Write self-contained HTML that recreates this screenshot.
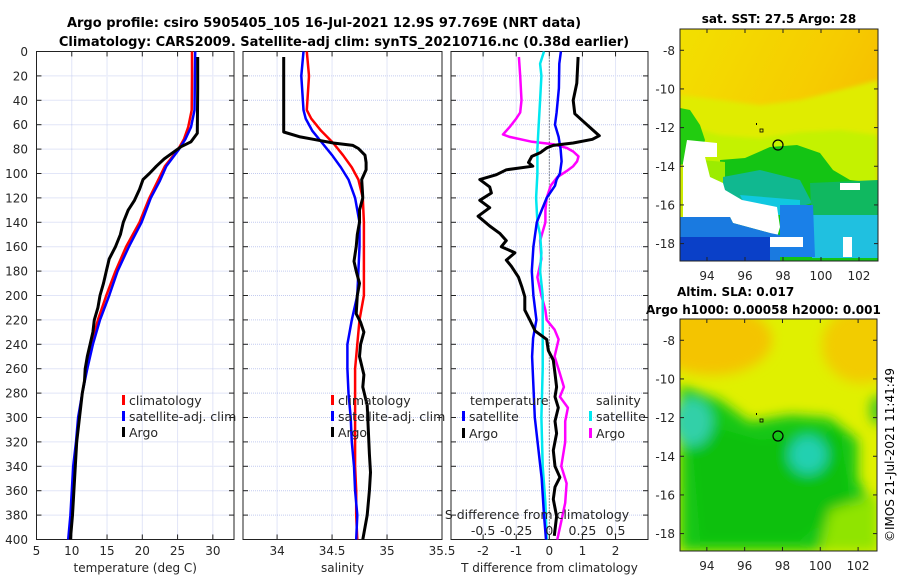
<!DOCTYPE html>
<html><head><meta charset="utf-8"><style>
html,body{margin:0;padding:0;background:#fff;}
svg{display:block;font-family:"DejaVu Sans","Liberation Sans",sans-serif;}
</style></head><body>
<svg id="chart" width="900" height="580" viewBox="0 0 900 580" xmlns="http://www.w3.org/2000/svg">
<defs>
<filter id="blur1"><feGaussianBlur stdDeviation="2"/></filter>
<filter id="blur2"><feGaussianBlur stdDeviation="6"/></filter>
<clipPath id="clipM1"><rect x="680" y="29" width="198" height="232"/></clipPath>
<clipPath id="clipM2"><rect x="680" y="319" width="197" height="232"/></clipPath>
<linearGradient id="g1" x1="0" y1="0" x2="1" y2="0.6"><stop offset="0" stop-color="#f2e000"/><stop offset="0.6" stop-color="#f6cc00"/><stop offset="1" stop-color="#f5b800"/></linearGradient>
</defs>
<text x="324" y="27" text-anchor="middle" font-size="13" font-weight="bold">Argo profile: csiro 5905405_105 16-Jul-2021 12.9S 97.769E (NRT data)</text>
<text x="344" y="46" text-anchor="middle" font-size="13" font-weight="bold">Climatology: CARS2009. Satellite-adj clim: synTS_20210716.nc (0.38d earlier)</text>

<!-- Map 1 -->
<g clip-path="url(#clipM1)">
<rect x="680" y="29" width="198" height="232" fill="url(#g1)"/>
<g filter="url(#blur1)">
<polygon points="680,95 720,100 760,105 800,100 840,90 878,80 878,200 680,200" fill="#e0ec00"/>
<polygon points="680,125 720,135 760,138 800,132 840,130 878,135 878,261 680,261" fill="#c4f200"/>
</g>
<polygon points="680,108 690,110 700,125 705,140 700,160 680,165" fill="#22cc10"/>
<polygon points="720,160 745,158 770,147 797,145 820,153 833,170 850,180 877,183 878,261 720,261" fill="#14c414"/>
<polygon points="700,160 725,162 725,185 700,185" fill="#9cec00"/>
<polygon points="723,177 760,170 800,180 812,203 790,210 723,200" fill="#10b890"/>
<polygon points="810,183 878,180 878,225 812,225" fill="#10b860"/>
<polygon points="740,195 800,200 800,215 750,215" fill="#10c8e0"/>
<polygon points="812,215 878,215 878,258 812,258" fill="#20c0e0"/>
<polygon points="687,140 717,143 717,157 705,157 710,177 723,183 725,190 742,200 757,203 777,207 780,227 777,237 770,233 733,223 730,217 683,217 683,163" fill="#ffffff"/>
<polygon points="680,217 730,217 733,223 770,233 780,235 780,261 680,261" fill="#1a7ae0"/>
<polygon points="780,205 813,205 815,257 780,257" fill="#1a80e8"/>
<polygon points="680,237 770,237 770,261 680,261" fill="#0a40c8"/>
<rect x="770" y="237" width="33" height="10" fill="#fff"/>
<rect x="843" y="237" width="9" height="20" fill="#fff"/>
<rect x="840" y="183" width="20" height="7" fill="#fff"/>
<circle cx="778" cy="145" r="5" fill="none" stroke="#000" stroke-width="1.2"/>
<rect x="756" y="123" width="1" height="2" fill="#000"/>
<rect x="760" y="129" width="3" height="3" fill="none" stroke="#000" stroke-width="0.8"/>
</g>
<rect x="680" y="29" width="198" height="232" fill="none" stroke="#222" stroke-width="1"/>
<text x="779" y="23" text-anchor="middle" font-size="12" font-weight="bold">sat. SST: 27.5 Argo: 28</text>

<!-- Map 2 -->
<g clip-path="url(#clipM2)">
<rect x="680" y="319" width="197" height="232" fill="#e0f000"/>
<g filter="url(#blur2)">
<ellipse cx="712" cy="340" rx="60" ry="35" fill="#f4c400"/>
<ellipse cx="862" cy="345" rx="40" ry="38" fill="#f2cc00"/>
<polygon points="680,385 720,400 750,422 790,415 830,418 858,440 858,480 870,500 878,500 878,551 680,551" fill="#18c818"/>
<polygon points="690,420 760,440 840,430 850,500 800,540 700,540" fill="#10c010"/>
<polygon points="830,510 878,495 878,551 820,551" fill="#90e400"/>
<ellipse cx="692" cy="422" rx="20" ry="24" fill="#30d0a8"/>
<ellipse cx="808" cy="455" rx="19" ry="19" fill="#20d0b0"/>
<ellipse cx="878" cy="410" rx="8" ry="15" fill="#40c820"/>
</g>
<circle cx="778" cy="436" r="5" fill="none" stroke="#000" stroke-width="1.2"/>
<rect x="756" y="413" width="1" height="2" fill="#000"/>
<rect x="760" y="419" width="3" height="3" fill="none" stroke="#000" stroke-width="0.8"/>
</g>
<rect x="680" y="319" width="197" height="232" fill="none" stroke="#222" stroke-width="1"/>
<text x="677" y="296" font-size="12" font-weight="bold">Altim. SLA: 0.017</text>
<text x="646" y="314" font-size="12" font-weight="bold">Argo h1000: 0.00058 h2000: 0.001</text>
<text transform="translate(894,455) rotate(-90)" text-anchor="middle" font-size="12">©IMOS 21-Jul-2021 11:41:49</text>
<g id="dyn"></g>
</svg>
<script>
// ---------- data ----------
const tDepthClim = [0,20,48,62,72,81,94,106,120,140,160,180,200,220,240,260,280,300,320,340,360,380,400];
const tempClim   = [27.05,27.05,27.0,26.5,25.9,25.0,23.2,22.2,21.0,19.6,17.7,16.2,14.9,13.7,12.8,12.1,11.5,11.0,10.7,10.3,10.1,9.9,9.6];
const tempSat    = [27.5,27.45,27.4,26.9,26.1,25.1,23.4,22.5,21.2,19.9,18.1,16.5,15.3,14.0,13.0,12.2,11.5,10.9,10.6,10.2,10.0,9.8,9.5];
const tDepthArgo = [4.5,30,67,74,78,83,88,94,100,105,113,122,130,140,150,160,170,180,190,200,210,220,230,240,250,260,270,280,290,300,320,340,360,380,400];
const tempArgo   = [27.85,27.85,27.8,26.9,25.5,24.3,23.1,22.0,21.0,20.1,19.6,18.9,18.0,17.3,16.9,16.2,15.3,14.9,14.5,14.0,13.7,13.2,13.0,12.6,12.2,11.9,11.8,11.5,11.3,11.1,10.7,10.5,10.3,10.1,9.8];

const sDepthClim = [0,20,48,55,65,75,85,95,105,120,140,160,180,200,220,240,260,280,300,320,340,360,380,400];
const salClim    = [34.27,34.29,34.27,34.31,34.40,34.51,34.60,34.68,34.74,34.78,34.79,34.79,34.79,34.79,34.75,34.73,34.71,34.71,34.71,34.71,34.71,34.72,34.72,34.73];
const salSat     = [34.24,34.22,34.24,34.26,34.32,34.41,34.50,34.58,34.65,34.71,34.75,34.75,34.74,34.73,34.68,34.64,34.64,34.65,34.67,34.68,34.70,34.71,34.73,34.72];
const sDepthArgo = [4.5,66,70,72,75,77,79.5,85,91,97,105,120,130,140,150,160,172,180,190,200,215,222,230,240,250,265,275,290,310,330,345,360,380,400];
const salArgo    = [34.06,34.06,34.21,34.33,34.51,34.69,34.74,34.80,34.81,34.81,34.77,34.78,34.75,34.75,34.73,34.72,34.70,34.72,34.75,34.73,34.72,34.76,34.79,34.76,34.75,34.79,34.78,34.82,34.83,34.84,34.85,34.84,34.82,34.78];

const dDepthArgoT = [4.5,26,40,51,56,64,69,72,75,77,79,83,86,91,94,97,101,105,111,116,122,128,135,143,149,155,160,165,171,176,185,193,201,212,220,229,236,245,253,264,275,283,292,303,313,327,340,349,357,367,381,397];
const tDiffArgo   = [0.87,0.83,0.72,0.77,0.97,1.30,1.51,1.30,0.72,0.12,-0.08,-0.28,-0.53,-0.63,-0.50,-1.30,-1.60,-2.10,-1.80,-1.75,-2.10,-1.80,-2.15,-1.80,-1.50,-1.30,-1.45,-1.04,-1.30,-1.15,-0.93,-0.83,-0.74,-0.74,-0.59,-0.43,-0.08,-0.03,0.12,0.17,0.22,0.17,0.27,0.17,0.22,0.12,0.17,0.32,0.17,0.12,0.22,0.15];
const dDepthSatT  = [0,10,30,50,60,70,80,90,100,105,110,120,130,140,160,180,200,220,235,250,300,350,380,400];
const tDiffSat    = [0.35,0.30,0.29,0.22,0.17,0.28,0.34,0.37,0.32,0.22,0.17,-0.08,-0.23,-0.38,-0.48,-0.53,-0.48,-0.39,-0.49,-0.52,-0.44,-0.23,-0.16,-0.10];
const dDepthSatS  = [0,10,20,40,60,80,100,120,140,150,165,180,200,230,260,300,340,370,400];
const sDiffSat    = [-0.04,-0.07,-0.06,-0.07,-0.08,-0.09,-0.09,-0.10,-0.09,-0.07,-0.06,-0.07,-0.05,-0.05,-0.05,-0.06,-0.05,-0.03,-0.02];
const dDepthArgoS = [4.5,20,40,50,55,62,68,70,74,76,79,82,86,90,94,98,103,110,120,130,140,155,170,185,200,212,220,228,236,250,264,275,283,292,303,320,340,354,370,385,400];
const sDiffArgo   = [-0.23,-0.22,-0.21,-0.22,-0.25,-0.30,-0.35,-0.30,-0.13,0.03,0.13,0.18,0.22,0.21,0.18,0.13,0.06,0.01,-0.02,-0.03,-0.03,-0.07,-0.06,-0.09,-0.06,-0.03,-0.02,0.04,0.07,0.04,0.08,0.11,0.08,0.14,0.12,0.12,0.09,0.13,0.12,0.09,0.06];

const depthTicks = [0,20,40,60,80,100,120,140,160,180,200,220,240,260,280,300,320,340,360,380,400];
const tempTicks = [5,10,15,20,25,30];
const salTicks = [34,34.5,35,35.5];
const salTickLabels = ["34","34.5","35","35.5"];
const diffTicks = [-2,-1,0,1,2];
const sDiffTickLabels = ["-0.5","-0.25","0","0.25","0.5"];
const sDiffTicks = [-0.5,-0.25,0,0.25,0.5];
const lonTicks = [94,96,98,100,102];
const latTicks = [-8,-10,-12,-14,-16,-18];

// ---------- helpers ----------
const NS = "http://www.w3.org/2000/svg";
const root = document.getElementById('dyn');
function mk(tag, attrs, parent){ const e=document.createElementNS(NS,tag); for(const k in attrs) e.setAttribute(k,attrs[k]); (parent||root).appendChild(e); return e; }
const Y0=51.5, Y1=539.5;
const yD = d => Y0 + d*(Y1-Y0)/400;
function lin(d0,d1,r0,r1){ return v => r0 + (v-d0)*(r1-r0)/(d1-d0); }
const panels = [
  {x0:36.5, x1:234, sx: lin(5,33,36.5,234)},
  {x0:243, x1:442, sx: lin(33.69,35.5,243,442)},
  {x0:451, x1:648, sx: lin(-2.97,2.98,451,648)}
];
function text(str, x, y, opts){
  const t = mk('text', Object.assign({x:x, y:y, 'font-size':12, fill:'#262626'}, opts||{}));
  t.textContent = str; return t;
}
function drawPanel(p, xt, xtLabels, name, xlabel, showY){
  const g = mk('g',{});
  
  
  depthTicks.forEach(d=>{
    mk('line',{x1:p.x0,x2:p.x1,y1:yD(d),y2:yD(d),stroke:'#c4ccf0','stroke-width':1,'stroke-dasharray':'1,1'},g);
    mk('line',{x1:p.x0,x2:p.x0+5,y1:yD(d),y2:yD(d),stroke:'#222'},g);
    mk('line',{x1:p.x1-5,x2:p.x1,y1:yD(d),y2:yD(d),stroke:'#222'},g);
  });
  xt.forEach((v,i)=>{
    const x=p.sx(v);
    mk('line',{x1:x,x2:x,y1:Y0,y2:Y1,stroke:'#c4ccf0','stroke-width':1,'stroke-dasharray':'1,1'},g);
    mk('line',{x1:x,x2:x,y1:Y1-5,y2:Y1,stroke:'#222'},g);
    mk('line',{x1:x,x2:x,y1:Y0,y2:Y0+5,stroke:'#222'},g);
    const t = text(xtLabels[i], x, 555, {'text-anchor':'middle'});
    
    
  });
  if(showY){
    depthTicks.forEach(d=>{
      const t = text(String(d), 28, yD(d)+4.5, {'text-anchor':'end'});
      
      
    });
  }
  const xl = text(xlabel, (p.x0+p.x1)/2, 572, {'text-anchor':'middle'});
  
  
  const fr = mk('rect',{x:p.x0,y:Y0,width:p.x1-p.x0,height:Y1-Y0,fill:'none',stroke:'#222','stroke-width':1});
  
  
}
function series(p, depths, vals, color, w, name, scale){
  const pts = depths.map((d,i)=> p.sx(vals[i]*(scale||1)).toFixed(1)+','+yD(d).toFixed(1)).join(' ');
  const l = mk('polyline',{points:pts, fill:'none', stroke:color, 'stroke-width':w, 'stroke-linejoin':'round'});
  
  
}
function legend(x, y, color, label){
  const r = mk('rect',{x:x, y:y-10, width:3, height:10, fill:color});
  
  
  const t = text(label, x+7, y, {'font-size':12.5});
  
  
}

// Panel 1
drawPanel(panels[0], tempTicks, tempTicks.map(String), 'temperature-panel', 'temperature (deg C)', true);
series(panels[0], tDepthClim, tempClim, '#ff0000', 2.5, 'temp-climatology-line');
series(panels[0], tDepthClim, tempSat, '#0000ff', 2.5, 'temp-satellite-line');
series(panels[0], tDepthArgo, tempArgo, '#000000', 3, 'temp-argo-line');
legend(122,405,'#ff0000','climatology');
legend(122,421,'#0000ff','satellite-adj. clim');
legend(122,437,'#000000','Argo');

// Panel 2
drawPanel(panels[1], salTicks, salTickLabels, 'salinity-panel', 'salinity', false);
series(panels[1], sDepthClim, salClim, '#ff0000', 2.5, 'sal-climatology-line');
series(panels[1], sDepthClim, salSat, '#0000ff', 2.5, 'sal-satellite-line');
series(panels[1], sDepthArgo, salArgo, '#000000', 3, 'sal-argo-line');
legend(331,405,'#ff0000','climatology');
legend(331,421,'#0000ff','satellite-adj. clim');
legend(331,437,'#000000','Argo');

// Panel 3
drawPanel(panels[2], diffTicks, diffTicks.map(String), 'difference-panel', 'T difference from climatology', false);
const zx = panels[2].sx(0);
mk('line',{x1:zx,x2:zx,y1:Y0,y2:Y1,stroke:'#333','stroke-width':1,'stroke-dasharray':'1,2'});
series(panels[2], dDepthArgoS, sDiffArgo, '#ff00ff', 2.5, 'sdiff-argo-line', 4);
series(panels[2], dDepthSatS, sDiffSat, '#00e8f0', 2.5, 'sdiff-satellite-line', 4);
series(panels[2], dDepthSatT, tDiffSat, '#0000ff', 2.5, 'tdiff-satellite-line');
series(panels[2], dDepthArgoT, tDiffArgo, '#000000', 3, 'tdiff-argo-line');
const lt = text('temperature', 470, 405, {'font-size':12.5});


legend(462,421,'#0000ff','satellite');
legend(462,438,'#000000','Argo');
const ls = text('salinity', 596, 405, {'font-size':12.5});


legend(589,421,'#00e8f0','satellite');
legend(589,438,'#ff00ff','Argo');
const st = text('S difference from climatology', 537, 519, {'text-anchor':'middle','font-size':12.5});


sDiffTicks.forEach((v,i)=>{
  const t = text(sDiffTickLabels[i], panels[2].sx(v*4), 535, {'text-anchor':'middle','font-size':12.5});
  
  
});

// Map axes
function mapAxes(x0,x1,y0,y1,lon0,lon1,lat0,lat1,labelY,name){
  const sx = lin(lon0,lon1,x0,x1), sy = lin(lat0,lat1,y0,y1);
  lonTicks.forEach(v=>{
    const x=sx(v);
    mk('line',{x1:x,x2:x,y1:y1-4,y2:y1,stroke:'#222'});
    mk('line',{x1:x,x2:x,y1:y0,y2:y0+4,stroke:'#222'});
    const t = text(String(v), x, labelY, {'text-anchor':'middle'});
    
    
  });
  latTicks.forEach(v=>{
    const y=sy(v);
    mk('line',{x1:x0,x2:x0+4,y1:y,y2:y,stroke:'#222'});
    mk('line',{x1:x1-4,x2:x1,y1:y,y2:y,stroke:'#222'});
    const t = text(String(v), x0-5, y+4.5, {'text-anchor':'end'});
    
    
  });
}
mapAxes(680,878,29,261,92.58,103.0,-6.9,-18.9,280,'sst-map');
mapAxes(680,877,319,551,92.58,103.0,-6.9,-18.9,570,'sla-map');
</script>
</body></html>
